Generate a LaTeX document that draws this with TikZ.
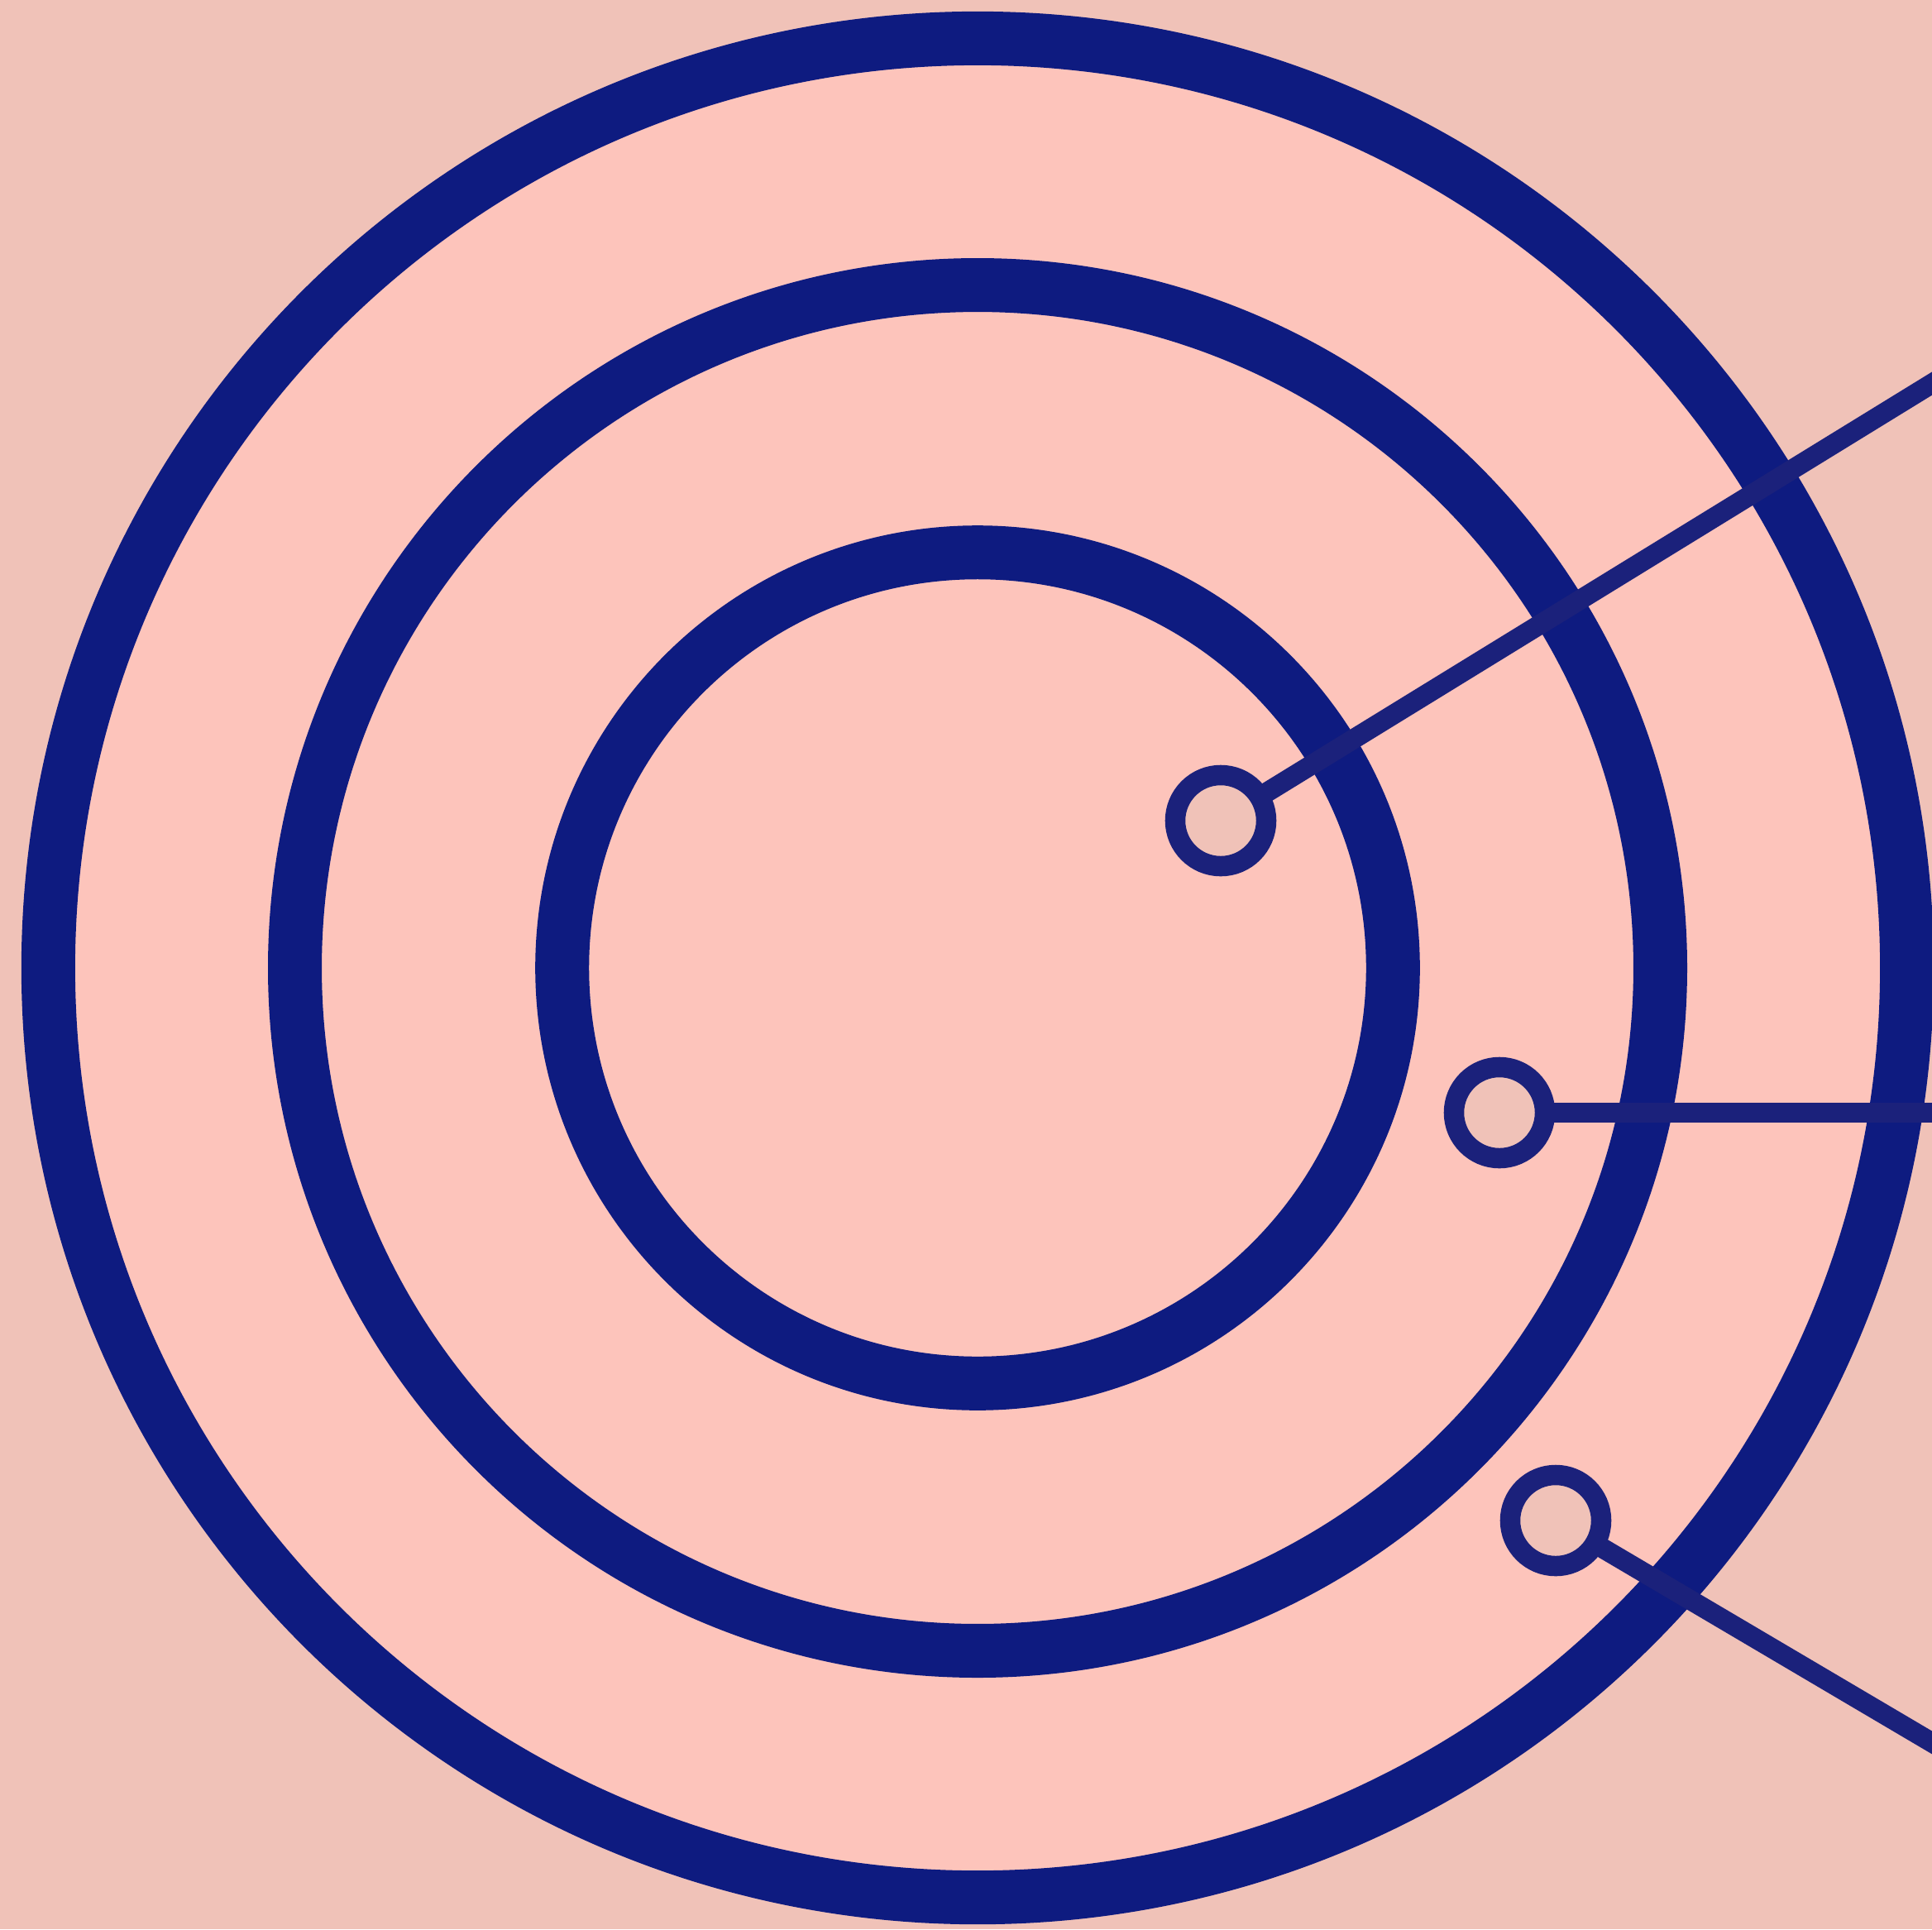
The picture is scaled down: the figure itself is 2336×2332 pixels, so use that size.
\documentclass[tikz,border=0pt]{standalone}
\definecolor{bg}{RGB}{240,194,184}
\definecolor{ringfill}{RGB}{253,196,187}
\definecolor{ring}{RGB}{14,27,128}
\definecolor{wire}{RGB}{27,33,123}
\pgfdeclarelayer{back}
\pgfdeclarelayer{wires}
\pgfsetlayers{back,wires,main}
\begin{document}
\begin{tikzpicture}[x=0.01cm,y=-0.01cm,
  bigring/.style={draw=ring,line width=0.65cm,fill=ringfill},
  dot/.style={circle,draw=wire,fill=bg,line width=0.245cm,minimum size=1.1cm,inner sep=0pt},
  wireline/.style={draw=wire,line width=0.24cm}]
\useasboundingbox (0,0) rectangle (2336,2332);
\begin{pgfonlayer}{back}
\fill[bg] (0,0) rectangle (2336,2332);
\coordinate (c) at (1182,1170);
\draw[bigring] (c) circle[radius=11.23cm];
\draw[bigring] (c) circle[radius=8.25cm];
\draw[bigring] (c) circle[radius=5.02cm];
\end{pgfonlayer}
\node[dot] (s1) at (1476,992) {};
\node[dot] (s2) at (1813,1345) {};
\node[dot] (s3) at (1881,1838) {};
\coordinate (e1) at (2376,439);
\coordinate (e2) at (2376,1345);
\coordinate (e3) at (2376,2130);
\begin{pgfonlayer}{wires}
\draw[wireline] (s1.center) -- (e1);
\draw[wireline] (s2.center) -- (e2);
\draw[wireline] (s3.center) -- (e3);
\end{pgfonlayer}
\end{tikzpicture}
\end{document}
